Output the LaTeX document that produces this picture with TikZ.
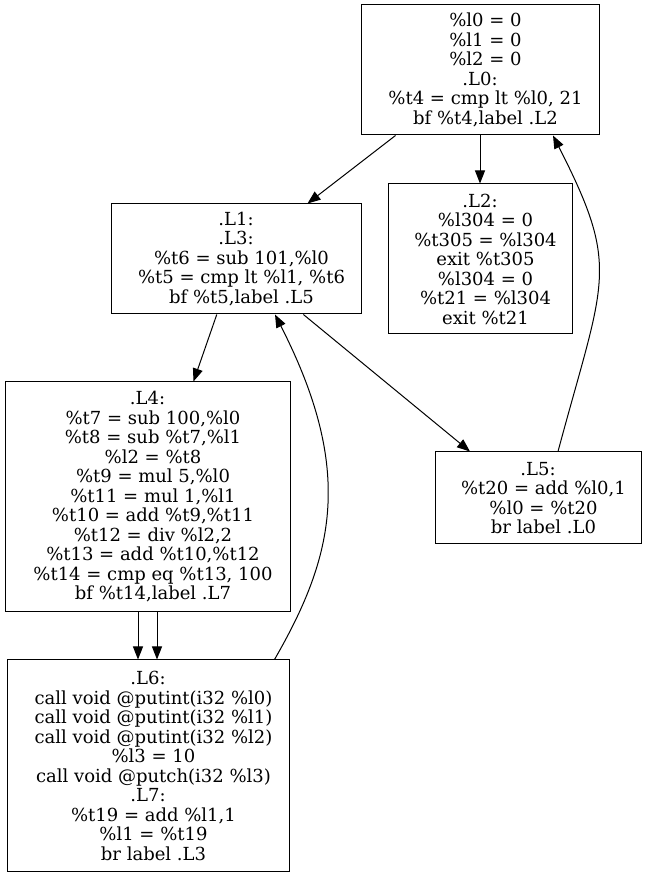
\documentclass[tikz,border=0pt]{standalone}
\usepackage{fontspec}
\setmainfont{DejaVu Serif}
\usetikzlibrary{arrows.meta}
\usetikzlibrary{positioning}
\tikzstyle{block}=[draw, line width=1pt, align=center, inner sep=0pt, font=\fontsize{18}{19.5}\selectfont]
\tikzstyle{edge}=[-{Triangle[length=13pt, width=10pt]}, line width=1pt]
\newcommand{\ins}{\hspace*{11pt}}

\begin{document}
\begin{tikzpicture}[x=1pt, y=1pt]
    \useasboundingbox (0, 0) rectangle (647, 877) ;
    % blocks
    \node[block, minimum width=238, minimum height=130] (b0) at (480, 807)
        {\ins\%l0 = 0\\ \ins\%l1 = 0\\ \ins\%l2 = 0\\ .L0:\\ \ins\%t4 = cmp lt \%l0, 21\\ \ins bf \%t4,label .L2} ;
    \node[block, minimum width=250, minimum height=110] (l1) at (236, 618)
        {.L1:\\ .L3:\\ \ins\%t6 = sub 101,\%l0\\ \ins\%t5 = cmp lt \%l1, \%t6\\ \ins bf \%t5,label .L5} ;
    \node[block, minimum width=184, minimum height=150] (l2) at (480, 618)
        {.L2:\\ \ins\%l304 = 0\\ \ins\%t305 = \%l304\\ \ins exit \%t305\\ \ins\%l304 = 0\\ \ins\%t21 = \%l304\\ \ins exit \%t21} ;
    \node[block, minimum width=285, minimum height=230] (l4) at (147.5, 380)
        {.L4:\\ \ins\%t7 = sub 100,\%l0\\ \ins\%t8 = sub \%t7,\%l1\\ \ins\%l2 = \%t8\\ \ins\%t9 = mul 5,\%l0\\
         \ins\%t11 = mul 1,\%l1\\ \ins\%t10 = add \%t9,\%t11\\ \ins\%t12 = div \%l2,2\\ \ins\%t13 = add \%t10,\%t12\\
         \ins\%t14 = cmp eq \%t13, 100\\ \ins bf \%t14,label .L7} ;
    \node[block, minimum width=206, minimum height=92] (l5) at (538, 379)
        {.L5:\\ \ins\%t20 = add \%l0,1\\ \ins\%l0 = \%t20\\ \ins br label .L0} ;
    \node[block, minimum width=282, minimum height=212] (l6) at (148, 111)
        {.L6:\\ \ins call void @putint(i32 \%l0)\\ \ins call void @putint(i32 \%l1)\\ \ins call void @putint(i32 \%l2)\\
         \ins\%l3 = 10\\ \ins call void @putch(i32 \%l3)\\ .L7:\\ \ins\%t19 = add \%l1,1\\ \ins\%l1 = \%t19\\ \ins br label .L3} ;
    % edges
    \draw[edge] (b0) -- (l1) ;
    \draw[edge] (b0) -- (l2) ;
    \draw[edge] (l1) -- ([xshift=46pt]l4.north) ;
    \draw[edge] (l1) -- ([xshift=-68pt]l5.north) ;
    \draw[edge] ([xshift=-9.5pt]l4.south) -- ([xshift=-10pt]l6.north) ;
    \draw[edge] ([xshift=9.5pt]l4.south) -- ([xshift=9pt]l6.north) ;
    \draw[edge] ([xshift=20pt]l5.north) .. controls +(75:180pt) and +(-63:150pt) .. ([xshift=73pt]b0.south) ;
    \draw[edge] ([xshift=-15pt]l6.north east) .. controls +(60:120pt) and +(-63:175pt) .. ([xshift=39pt]l1.south) ;
\end{tikzpicture}
\end{document}
